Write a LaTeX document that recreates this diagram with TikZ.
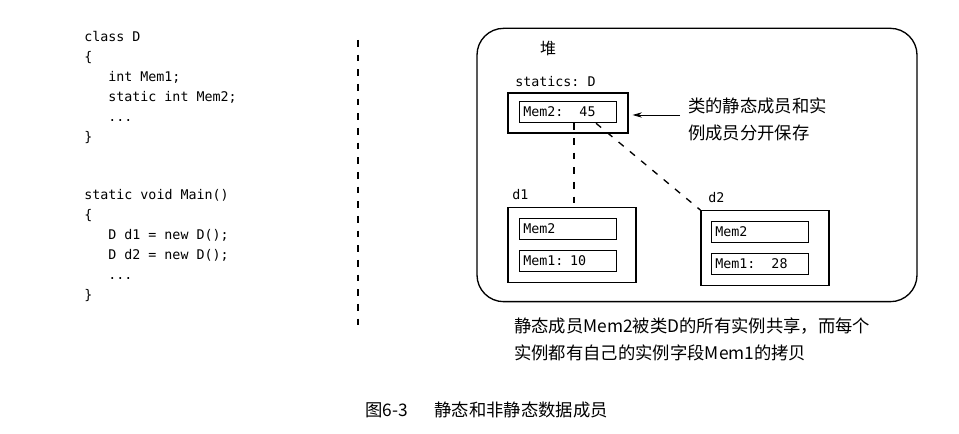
\documentclass[tikz,border=0pt]{standalone}
\usepackage{fontspec}
\setmonofont{DejaVu Sans Mono}
\newfontfamily\cjk{Noto Sans CJK SC}
\usetikzlibrary{arrows.meta,calc}

\newcommand{\ind}{\hspace*{18pt}}
\newcommand{\gap}{\hspace*{12pt}}

\tikzset{
  code/.style={font=\ttfamily\fontsize{10}{15}\selectfont, align=left, anchor=north west, inner sep=0pt},
  membox/.style={draw, line width=0.9pt, text width=67pt, minimum height=16pt, align=left, inner sep=3pt, font=\ttfamily\fontsize{10}{12}\selectfont},
  objbox/.style={draw, line width=0.9pt, minimum width=96pt, minimum height=56pt},
  lbl/.style={font=\ttfamily\fontsize{10}{12}\selectfont, anchor=base west, inner sep=0pt},
  note/.style={font=\cjk\fontsize{13}{20}\selectfont, align=left, anchor=north west, inner sep=0pt},
  link/.style={line width=1pt, dash pattern=on 5pt off 6pt}
}

\begin{document}
\begin{tikzpicture}[x=0.75pt,y=-0.75pt]
  \useasboundingbox (0,0) rectangle (959,434);

  % source code
  \node[code] (cls) at (84,31) {class D\\
    \{\\
    \ind int Mem1;\\
    \ind static int Mem2;\\
    \ind ...\\
    \}};
  \node[code] (main) at (84,189) {static void Main()\\
    \{\\
    \ind D d1 = new D();\\
    \ind D d2 = new D();\\
    \ind ...\\
    \}};

  % separator
  \coordinate (sepT) at (358,40);
  \coordinate (sepB) at (358,326);
  \draw[link] (sepT) -- (sepB);

  % heap
  \node[draw, line width=1pt, rounded corners=20pt, minimum width=330pt, minimum height=205pt] (heap) at (697,165) {};
  \node[font=\cjk\fontsize{12}{14}\selectfont, inner sep=0pt] (heaplbl) at (548,48) {堆};

  % statics of D
  \node[lbl] (statlbl) at (515,87) {statics: D};
  \node[draw, line width=0.9pt, minimum width=90pt, minimum height=30pt] (statics) at (568,113) {};
  \node[membox] (sm2) at (568,112) {Mem2:\gap{}45};

  \node[note] (why) at (688,98) {类的静态成员和实\\例成员分开保存};
  \draw[-{Stealth[length=7pt,width=4pt]}, line width=0.6pt] ($(why.west |- statics.east)+(-8,2)$) -- ($(statics.east)+(4,2)$);

  % instances
  \node[lbl] (d1lbl) at (512,200) {d1};
  \node[objbox] (d1) at (572,245) {};
  \node[membox] (d1m2) at (568,229) {Mem2};
  \node[membox] (d1m1) at (568,261) {Mem1: 10};

  \node[lbl] (d2lbl) at (708,203) {d2};
  \node[objbox] (d2) at (765,248) {};
  \node[membox] (d2m2) at (760,232) {Mem2};
  \node[membox] (d2m1) at (760,264) {Mem1:\gap{}28};

  % shared static member
  \coordinate (s1) at ($(sm2.south)+(6,0)$);
  \draw[link] (s1) -- (s1 |- d1.north);
  \draw[link] ($(sm2.south)+(28,0)$) -- (d2.north west);

  % captions
  \node[note] (share) at (514,318) {静态成员Mem2被类D的所有实例共享，而每个\\实例都有自己的实例字段Mem1的拷贝};
  \node[font=\cjk\fontsize{13}{15}\selectfont, anchor=base west, inner sep=0pt] (fig) at (365,416) {图6-3\hspace{20pt}静态和非静态数据成员};
\end{tikzpicture}
\end{document}
